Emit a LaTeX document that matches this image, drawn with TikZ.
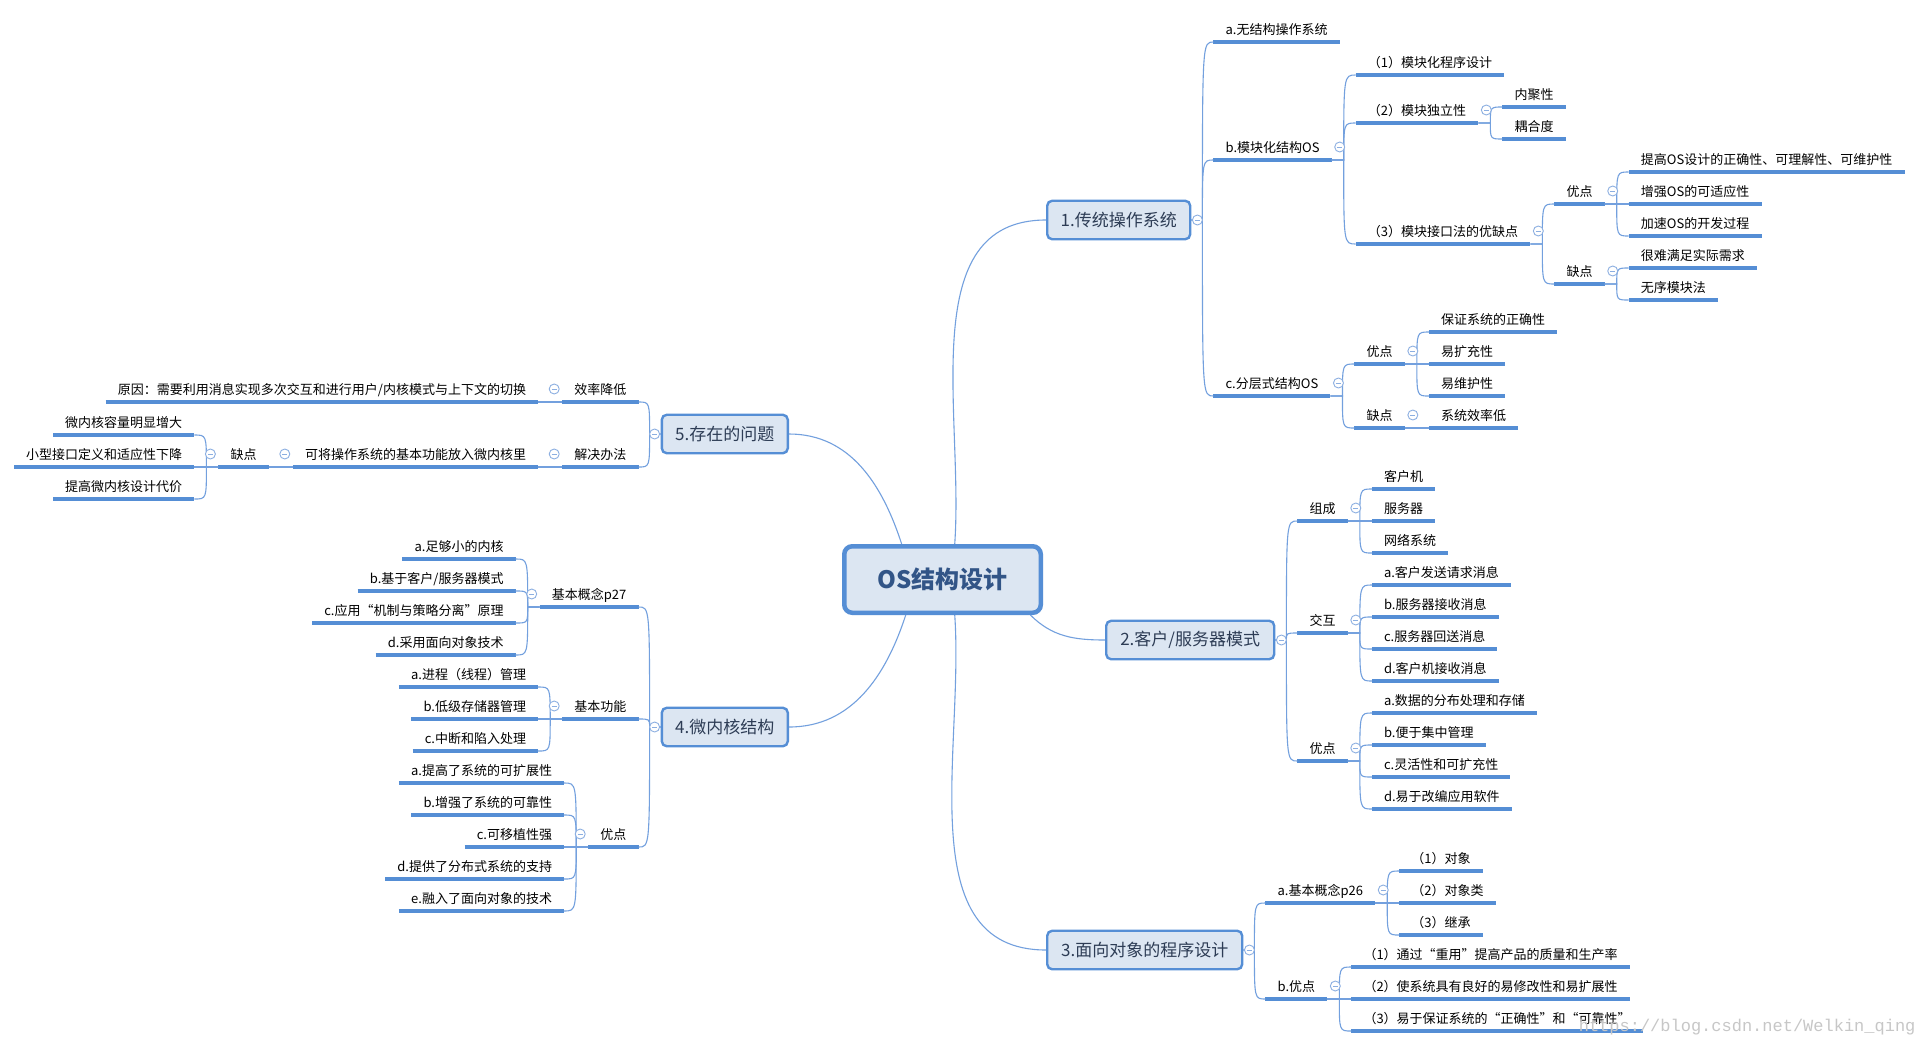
\documentclass[tikz,border=0pt]{standalone}
\usepackage{fontspec}
\setmainfont{Noto Sans CJK SC}
\newfontfamily\wmfont{Liberation Mono}
\usetikzlibrary{positioning}
\definecolor{mmline}{RGB}{85,142,213}
\definecolor{mmthin}{RGB}{115,160,222}
\definecolor{mmfill}{RGB}{220,230,242}
\definecolor{mmtext}{RGB}{45,60,85}
\definecolor{mmroot}{RGB}{50,85,135}
\definecolor{mmfold}{RGB}{140,175,225}
\tikzset{
  uline/.style={draw=mmline, line width=3.2pt},
  conn/.style={draw=mmthin, line width=1.1pt},
  leaf/.style={font=\fontsize{13}{15}\selectfont, inner xsep=12pt, inner ysep=4pt,
    text height=10pt, text depth=3pt,
    append after command={(\tikzlastnode.south west) edge[uline] (\tikzlastnode.south east)}},
  leafR/.style={leaf, anchor=south west},
  leafL/.style={leaf, anchor=south east},
  topic/.style={draw=mmline, fill=mmfill, line width=2.4pt, rounded corners=5pt,
    minimum height=38.5pt, font=\fontsize{17}{20}\selectfont, text=mmtext},
  root/.style={draw=mmline, fill=mmfill, line width=4.5pt, rounded corners=8pt,
    minimum width=196.5pt, minimum height=66.5pt,
    font=\fontsize{24}{28}\selectfont\bfseries, text=mmroot},
  fold/.style={circle, draw=mmfold, line width=0.9pt, minimum size=10pt, inner sep=0pt, fill=white,
    path picture={\draw[mmfold, line width=0.9pt]
      ([xshift=2.5pt]path picture bounding box.west) -- ([xshift=-2.5pt]path picture bounding box.east);}},
}
\begin{document}
\begin{tikzpicture}[x=1pt,y=-1pt]
  \useasboundingbox[fill=white] (0,0) rectangle (1921,1047);

  % centre and main topics
  \node[root] (os) at (942.5,579.5) {OS结构设计};
  \node[topic, anchor=west, minimum width=143pt] (p1) at (1046,220) {1.传统操作系统};
  \node[topic, anchor=west, minimum width=168pt] (p2) at (1105,640) {2.客户/服务器模式};
  \node[topic, anchor=west, minimum width=195pt] (p3) at (1046,950) {3.面向对象的程序设计};
  \node[topic, anchor=east, minimum width=126pt] (p4) at (789,727) {4.微内核结构};
  \node[topic, anchor=east, minimum width=126pt] (p5) at (789,434) {5.存在的问题};

  \draw[conn] (os.139) to[out=108,in=0] (p5.east);
  \draw[conn] (os.71) to[out=86,in=180] (p1.west);
  \draw[conn] (os.224) to[out=-108,in=0] (p4.east);
  \draw[conn] (os.289) to[out=-86,in=180] (p3.west);
  \draw[conn] (os.338) to[out=-45,in=180] (p2.west);

  % 1.传统操作系统
  \node[leafR, xshift=22pt] (p1a) at (p1.east |- 0,42) {a.无结构操作系统};
  \node[leafR, xshift=22pt] (p1b) at (p1.east |- 0,160) {b.模块化结构OS};
  \node[leafR, xshift=22pt] (p1c) at (p1.east |- 0,396) {c.分层式结构OS};
  \node[leafR, xshift=24pt] (p1b1) at (p1b.south east |- 0,75) {（1）模块化程序设计};
  \node[leafR, xshift=24pt] (p1b2) at (p1b.south east |- 0,123) {（2）模块独立性};
  \node[leafR, xshift=24pt] (p1b3) at (p1b.south east |- 0,244) {（3）模块接口法的优缺点};
  \node[leafR, xshift=24pt] (p1b2x) at (p1b2.south east |- 0,107) {内聚性};
  \node[leafR, xshift=24pt] (p1b2y) at (p1b2.south east |- 0,139) {耦合度};
  \node[leafR, xshift=24pt] (p1b3g) at (p1b3.south east |- 0,204) {优点};
  \node[leafR, xshift=24pt] (p1b3b) at (p1b3.south east |- 0,284) {缺点};
  \node[leafR, xshift=24pt] (p1b3g1) at (p1b3g.south east |- 0,172) {提高OS设计的正确性、可理解性、可维护性};
  \node[leafR, xshift=24pt] (p1b3g2) at (p1b3g.south east |- 0,204) {增强OS的可适应性};
  \node[leafR, xshift=24pt] (p1b3g3) at (p1b3g.south east |- 0,236) {加速OS的开发过程};
  \node[leafR, xshift=24pt] (p1b3b1) at (p1b3b.south east |- 0,268) {很难满足实际需求};
  \node[leafR, xshift=24pt] (p1b3b2) at (p1b3b.south east |- 0,300) {无序模块法};
  \node[leafR, xshift=24pt] (p1cg) at (p1c.south east |- 0,364) {优点};
  \node[leafR, xshift=24pt] (p1cb) at (p1c.south east |- 0,428) {缺点};
  \node[leafR, xshift=24pt] (p1cg1) at (p1cg.south east |- 0,332) {保证系统的正确性};
  \node[leafR, xshift=24pt] (p1cg2) at (p1cg.south east |- 0,364) {易扩充性};
  \node[leafR, xshift=24pt] (p1cg3) at (p1cg.south east |- 0,396) {易维护性};
  \node[leafR, xshift=24pt] (p1cb1) at (p1cb.south east |- 0,428) {系统效率低};

  % 2.客户/服务器模式
  \node[leafR, xshift=22pt] (p2a) at (p2.east |- 0,521) {组成};
  \node[leafR, xshift=22pt] (p2b) at (p2.east |- 0,633) {交互};
  \node[leafR, xshift=22pt] (p2c) at (p2.east |- 0,761) {优点};
  \node[leafR, xshift=24pt] (p2a1) at (p2a.south east |- 0,489) {客户机};
  \node[leafR, xshift=24pt] (p2a2) at (p2a.south east |- 0,521) {服务器};
  \node[leafR, xshift=24pt] (p2a3) at (p2a.south east |- 0,553) {网络系统};
  \node[leafR, xshift=24pt] (p2b1) at (p2b.south east |- 0,585) {a.客户发送请求消息};
  \node[leafR, xshift=24pt] (p2b2) at (p2b.south east |- 0,617) {b.服务器接收消息};
  \node[leafR, xshift=24pt] (p2b3) at (p2b.south east |- 0,649) {c.服务器回送消息};
  \node[leafR, xshift=24pt] (p2b4) at (p2b.south east |- 0,681) {d.客户机接收消息};
  \node[leafR, xshift=24pt] (p2c1) at (p2c.south east |- 0,713) {a.数据的分布处理和存储};
  \node[leafR, xshift=24pt] (p2c2) at (p2c.south east |- 0,745) {b.便于集中管理};
  \node[leafR, xshift=24pt] (p2c3) at (p2c.south east |- 0,777) {c.灵活性和可扩充性};
  \node[leafR, xshift=24pt] (p2c4) at (p2c.south east |- 0,809) {d.易于改编应用软件};

  % 3.面向对象的程序设计
  \node[leafR, xshift=22pt] (p3a) at (p3.east |- 0,903) {a.基本概念p26};
  \node[leafR, xshift=22pt] (p3b) at (p3.east |- 0,999) {b.优点};
  \node[leafR, xshift=24pt] (p3a1) at (p3a.south east |- 0,871) {（1）对象};
  \node[leafR, xshift=24pt] (p3a2) at (p3a.south east |- 0,903) {（2）对象类};
  \node[leafR, xshift=24pt] (p3a3) at (p3a.south east |- 0,935) {（3）继承};
  \node[leafR, xshift=24pt] (p3b1) at (p3b.south east |- 0,967) {（1）通过“重用”提高产品的质量和生产率};
  \node[leafR, xshift=24pt] (p3b2) at (p3b.south east |- 0,999) {（2）使系统具有良好的易修改性和易扩展性};
  \node[leafR, xshift=24pt] (p3b3) at (p3b.south east |- 0,1031) {（3）易于保证系统的“正确性”和“可靠性”};

  % 4.微内核结构
  \node[leafL, xshift=-22pt] (p4a) at (p4.west |- 0,607) {基本概念p27};
  \node[leafL, xshift=-22pt] (p4b) at (p4.west |- 0,719) {基本功能};
  \node[leafL, xshift=-22pt] (p4c) at (p4.west |- 0,847) {优点};
  \node[leafL, xshift=-24pt] (p4a1) at (p4a.south west |- 0,559) {a.足够小的内核};
  \node[leafL, xshift=-24pt] (p4a2) at (p4a.south west |- 0,591) {b.基于客户/服务器模式};
  \node[leafL, xshift=-24pt] (p4a3) at (p4a.south west |- 0,623) {c.应用“机制与策略分离”原理};
  \node[leafL, xshift=-24pt] (p4a4) at (p4a.south west |- 0,655) {d.采用面向对象技术};
  \node[leafL, xshift=-24pt] (p4b1) at (p4b.south west |- 0,687) {a.进程（线程）管理};
  \node[leafL, xshift=-24pt] (p4b2) at (p4b.south west |- 0,719) {b.低级存储器管理};
  \node[leafL, xshift=-24pt] (p4b3) at (p4b.south west |- 0,751) {c.中断和陷入处理};
  \node[leafL, xshift=-24pt] (p4c1) at (p4c.south west |- 0,783) {a.提高了系统的可扩展性};
  \node[leafL, xshift=-24pt] (p4c2) at (p4c.south west |- 0,815) {b.增强了系统的可靠性};
  \node[leafL, xshift=-24pt] (p4c3) at (p4c.south west |- 0,847) {c.可移植性强};
  \node[leafL, xshift=-24pt] (p4c4) at (p4c.south west |- 0,879) {d.提供了分布式系统的支持};
  \node[leafL, xshift=-24pt] (p4c5) at (p4c.south west |- 0,911) {e.融入了面向对象的技术};

  % 5.存在的问题
  \node[leafL, xshift=-22pt] (p5a) at (p5.west |- 0,402) {效率降低};
  \node[leafL, xshift=-22pt] (p5b) at (p5.west |- 0,467) {解决办法};
  \node[leafL, xshift=-24pt] (p5a1) at (p5a.south west |- 0,402) {原因：需要利用消息实现多次交互和进行用户/内核模式与上下文的切换};
  \node[leafL, xshift=-24pt] (p5b1) at (p5b.south west |- 0,467) {可将操作系统的基本功能放入微内核里};
  \node[leafL, xshift=-24pt] (p5b1x) at (p5b1.south west |- 0,467) {缺点};
  \node[leafL, xshift=-24pt] (p5b1x1) at (p5b1x.south west |- 0,435) {微内核容量明显增大};
  \node[leafL, xshift=-24pt] (p5b1x2) at (p5b1x.south west |- 0,467) {小型接口定义和适应性下降};
  \node[leafL, xshift=-24pt] (p5b1x3) at (p5b1x.south west |- 0,499) {提高微内核设计代价};

  % connectors
  \foreach \p/\cs in {p1/{p1a,p1b,p1c}, p2/{p2a,p2b,p2c}, p3/{p3a,p3b}}{
    \coordinate (\p t) at ([xshift=11pt]\p.east);
    \foreach \c in \cs
      \draw[conn] (\p.east) -- (\p t) .. controls (\p t |- \c.south west) .. (\c.south west);
  }
  \foreach \p/\cs in {p4/{p4a,p4b,p4c}, p5/{p5a,p5b}}{
    \coordinate (\p t) at ([xshift=-11pt]\p.west);
    \foreach \c in \cs
      \draw[conn] (\p.west) -- (\p t) .. controls (\p t |- \c.south east) .. (\c.south east);
  }
  \foreach \p/\cs in {p1b/{p1b1,p1b2,p1b3}, p1b2/{p1b2x,p1b2y}, p1b3/{p1b3g,p1b3b},
      p1b3g/{p1b3g1,p1b3g2,p1b3g3}, p1b3b/{p1b3b1,p1b3b2}, p1c/{p1cg,p1cb},
      p1cg/{p1cg1,p1cg2,p1cg3}, p1cb/{p1cb1}, p2a/{p2a1,p2a2,p2a3},
      p2b/{p2b1,p2b2,p2b3,p2b4}, p2c/{p2c1,p2c2,p2c3,p2c4},
      p3a/{p3a1,p3a2,p3a3}, p3b/{p3b1,p3b2,p3b3}}{
    \coordinate (\p t) at ([xshift=12pt]\p.south east);
    \foreach \c in \cs
      \draw[conn] (\p.south east) -- (\p t) .. controls (\p t |- \c.south west) .. (\c.south west);
  }
  \foreach \p/\cs in {p4a/{p4a1,p4a2,p4a3,p4a4}, p4b/{p4b1,p4b2,p4b3},
      p4c/{p4c1,p4c2,p4c3,p4c4,p4c5}, p5a/{p5a1}, p5b/{p5b1}, p5b1/{p5b1x},
      p5b1x/{p5b1x1,p5b1x2,p5b1x3}}{
    \coordinate (\p t) at ([xshift=-12pt]\p.south west);
    \foreach \c in \cs
      \draw[conn] (\p.south west) -- (\p t) .. controls (\p t |- \c.south east) .. (\c.south east);
  }

  % fold markers
  \foreach \p in {p1,p2,p3}
    \node[fold] (f\p) at ([xshift=6pt]\p.east) {};
  \foreach \p in {p4,p5}
    \node[fold] (f\p) at ([xshift=-6pt]\p.west) {};
  \foreach \p in {p1b,p1b2,p1b3,p1b3g,p1b3b,p1c,p1cg,p1cb,p2a,p2b,p2c,p3a,p3b}
    \node[fold] (f\p) at ([xshift=8pt,yshift=13pt]\p.south east) {};
  \foreach \p in {p4a,p4b,p4c,p5a,p5b,p5b1,p5b1x}
    \node[fold] (f\p) at ([xshift=-8pt,yshift=13pt]\p.south west) {};

  \node[anchor=east, text=black!22, font=\wmfont\fontsize{17}{17}\selectfont] (wm) at (1919,1027)
    {https://blog.csdn.net/Welkin\_qing};
\end{tikzpicture}
\end{document}
